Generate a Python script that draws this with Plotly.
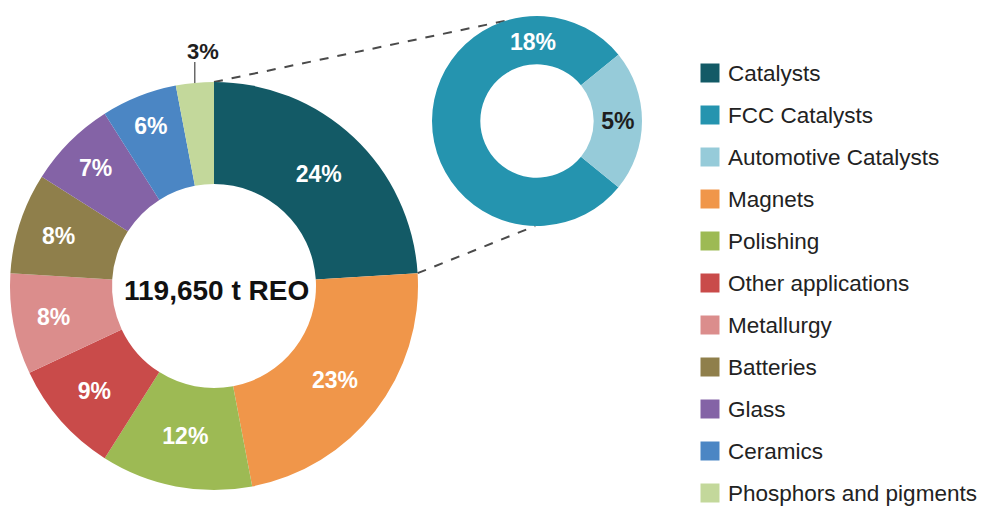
import math
import plotly.graph_objects as go

W, H = 990, 508

# Rare earth demand by end use (share of total, %)
uses = ["Catalysts", "Magnets", "Polishing", "Other applications", "Metallurgy",
        "Batteries", "Glass", "Ceramics", "Phosphors and pigments"]
shares = [24, 23, 12, 9, 8, 8, 7, 6, 3]
use_colors = ["#135a66", "#f0964a", "#9dba54", "#c94b4a", "#db8d8c",
              "#8f7f4b", "#8463a6", "#4b86c4", "#c3d89b"]

# Breakdown of the catalysts share
catalyst_types = ["FCC Catalysts", "Automotive Catalysts"]
catalyst_shares = [18, 5]
catalyst_colors = ["#2594af", "#96cbd9"]

legend_labels = ["Catalysts", "FCC Catalysts", "Automotive Catalysts", "Magnets", "Polishing",
                 "Other applications", "Metallurgy", "Batteries", "Glass", "Ceramics",
                 "Phosphors and pigments"]
legend_colors = ["#135a66", "#2594af", "#96cbd9", "#f0964a", "#9dba54", "#c94b4a",
                 "#db8d8c", "#8f7f4b", "#8463a6", "#4b86c4", "#c3d89b"]

total_label = "119,650 t REO"

# ---- layout geometry (pixels, y downward) ----
main_c, main_r, main_hole = (214, 286), 204, 0.5
sub_c, sub_r, sub_hole = (537, 121), 105, 0.54


def domain(c, r):
    return dict(x=[(c[0] - r) / W, (c[0] + r) / W],
                y=[(H - c[1] - r) / H, (H - c[1] + r) / H])


def polar(c, r, deg):
    a = math.radians(deg)
    return c[0] + r * math.sin(a), c[1] - r * math.cos(a)


BOLD = "Liberation Sans, Arial, sans-serif"
dark = "#1e1e1e"

fig = go.Figure()

# main donut; smallest slice is labelled outside with a leader
main_text = [f"{v}%" for v in shares[:-1]] + [""]
fig.add_trace(go.Pie(
    labels=uses, values=shares, sort=False, direction="clockwise", rotation=0,
    hole=main_hole, domain=domain(main_c, main_r),
    marker=dict(colors=use_colors, line=dict(width=0)),
    text=main_text, textinfo="text", textposition="inside",
    insidetextorientation="horizontal",
    textfont=dict(family=BOLD, size=23, color="white", weight="bold"),
    hoverinfo="label+value", showlegend=False,
))

# catalysts breakdown donut, automotive share centred on 3 o'clock
sub_total = sum(catalyst_shares)
sub_rot = 90 + 360 * catalyst_shares[1] / sub_total / 2
fig.add_trace(go.Pie(
    labels=catalyst_types, values=catalyst_shares, sort=False, direction="clockwise",
    rotation=sub_rot, hole=sub_hole, domain=domain(sub_c, sub_r),
    marker=dict(colors=catalyst_colors, line=dict(width=0)),
    text=["", f"{catalyst_shares[1]}%"], textinfo="text", textposition="inside",
    insidetextorientation="horizontal",
    textfont=dict(family=BOLD, size=23, color=dark, weight="bold"),
    hoverinfo="label+value", showlegend=False,
))

# connector lines from the catalysts slice to the breakdown donut
cat_end = 360 * shares[0] / sum(shares)
p_top = polar(main_c, main_r, 0)
p_side = polar(main_c, main_r, cat_end)
q_top = polar(sub_c, sub_r, -17)
q_bot = polar(sub_c, sub_r, 181)
for a, b in [(p_top, q_top), (p_side, q_bot)]:
    fig.add_trace(go.Scatter(
        x=[a[0], b[0]], y=[a[1], b[1]], mode="lines",
        line=dict(color="#4a4a4a", width=2, dash="dash"),
        hoverinfo="skip", showlegend=False, xaxis="x", yaxis="y",
    ))

# leader for the smallest slice
small_mid = 360 - 360 * shares[-1] / sum(shares) / 2
lx, _ = polar(main_c, main_r, small_mid)
ly_top = main_c[1] - main_r - 20
ly_bot = main_c[1] - main_r + 12
fig.add_trace(go.Scatter(
    x=[lx, lx], y=[ly_top, ly_bot], mode="lines",
    line=dict(color="#444444", width=1.2),
    hoverinfo="skip", showlegend=False, xaxis="x", yaxis="y",
))

annotations = [
    dict(x=lx + 8, y=ly_top - 11, text=f"<b>{shares[-1]}%</b>", showarrow=False,
         font=dict(family=BOLD, size=22, color=dark), xanchor="center", yanchor="middle",
         xref="x", yref="y"),
    dict(x=main_c[0] + 2, y=main_c[1] + 4, text=f"<b>{total_label}</b>", showarrow=False,
         font=dict(family=BOLD, size=28, color="#111111"),
         xanchor="center", yanchor="middle", xref="x", yref="y"),
]

# FCC share label sits at the top of the breakdown ring
fx, fy = polar(sub_c, (sub_r + sub_r * sub_hole) / 2, -3)
annotations.append(dict(x=fx, y=fy + 2, text=f"<b>{catalyst_shares[0]}%</b>", showarrow=False,
                        font=dict(family=BOLD, size=23, color="white"),
                        xanchor="center", yanchor="middle", xref="x", yref="y"))

# legend: swatches plus labels
leg_x, leg_y0, leg_dy = 710, 73, 42
leg_y = [leg_y0 + i * leg_dy for i in range(len(legend_labels))]
fig.add_trace(go.Scatter(
    x=[leg_x] * len(legend_labels), y=leg_y, mode="markers",
    marker=dict(symbol="square", size=19, color=legend_colors, line=dict(width=0)),
    hoverinfo="skip", showlegend=False, xaxis="x", yaxis="y",
))
for lab, y in zip(legend_labels, leg_y):
    annotations.append(dict(x=leg_x + 16, y=y, text=lab, showarrow=False,
                            font=dict(family="Liberation Sans, Arial, sans-serif",
                                      size=22.5, color="#222222"),
                            xanchor="left", yanchor="middle", xref="x", yref="y"))

fig.update_layout(
    width=W, height=H, margin=dict(l=0, r=0, t=0, b=0),
    paper_bgcolor="white", plot_bgcolor="rgba(0,0,0,0)",
    xaxis=dict(range=[0, W], visible=False, fixedrange=True, domain=[0, 1]),
    yaxis=dict(range=[H, 0], visible=False, fixedrange=True, domain=[0, 1]),
    annotations=annotations, showlegend=False,
)

fig.write_html("out.html")
